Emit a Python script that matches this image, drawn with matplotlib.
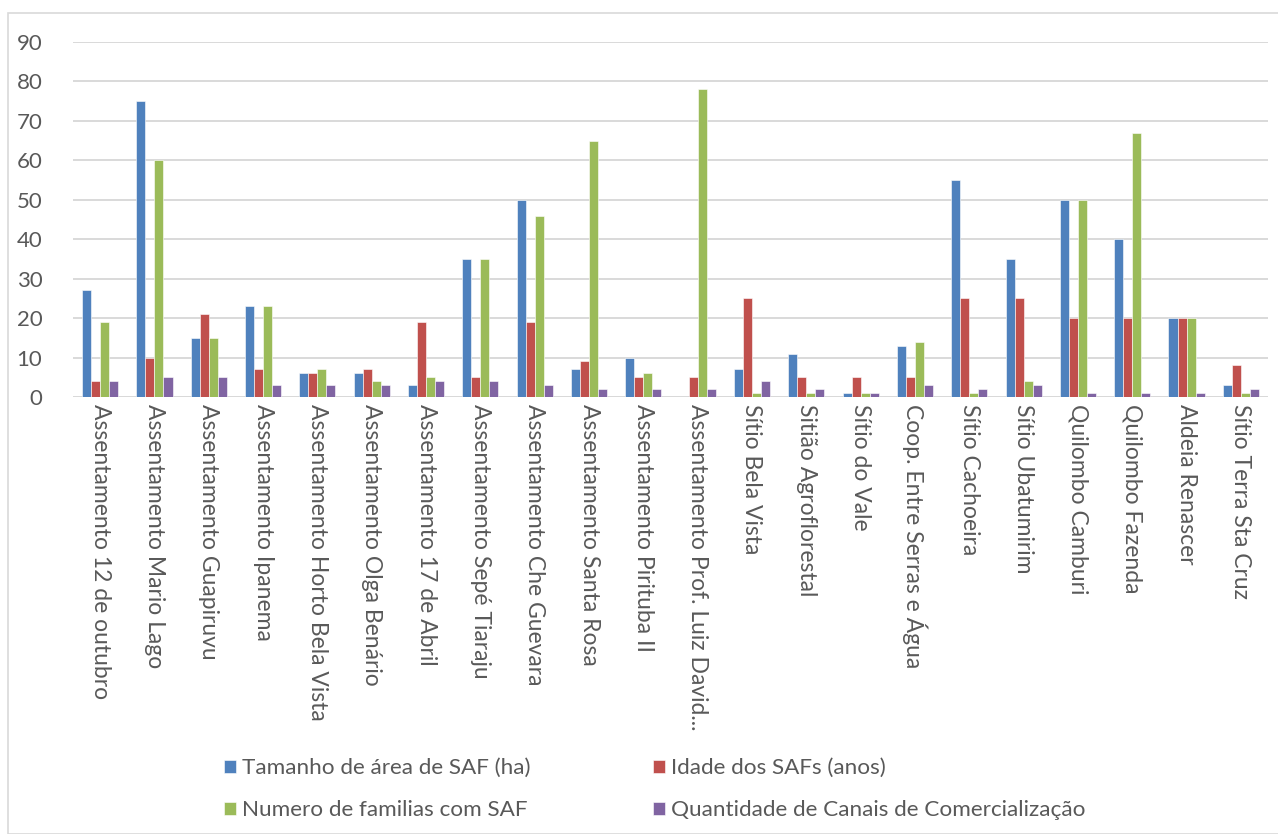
import numpy as np
import matplotlib
matplotlib.use("Agg")
import matplotlib.pyplot as plt
from matplotlib.patches import Rectangle

plt.rcParams['font.family'] = ['Lato', 'DejaVu Sans']

locais = [
    'Assentamento 12 de outubro', 'Assentamento Mario Lago', 'Assentamento Guapiruvu',
    'Assentamento Ipanema', 'Assentamento Horto Bela Vista', 'Assentamento Olga Benário',
    'Assentamento 17 de Abril', 'Assentamento Sepé Tiaraju', 'Assentamento Che Guevara',
    'Assentamento Santa Rosa', 'Assentamento Pirituba II', 'Assentamento Prof. Luiz David...',
    'Sítio Bela Vista', 'Sitião Agroflorestal', 'Sítio do Vale', 'Coop. Entre Serras e Água',
    'Sítio Cachoeira', 'Sítio Ubatumirim', 'Quilombo Camburi', 'Quilombo Fazenda',
    'Aldeia Renascer', 'Sítio Terra Sta Cruz',
]
tamanho = [27, 75, 15, 23, 6, 6, 3, 35, 50, 7, 10, 0, 7, 11, 1, 13, 55, 35, 50, 40, 20, 3]
idade = [4, 10, 21, 7, 6, 7, 19, 5, 19, 9, 5, 5, 25, 5, 5, 5, 25, 25, 20, 20, 20, 8]
familias = [19, 60, 15, 23, 7, 4, 5, 35, 46, 65, 6, 78, 1, 1, 1, 14, 1, 4, 50, 67, 20, 1]
canais = [4, 5, 5, 3, 3, 3, 4, 4, 3, 2, 2, 2, 4, 2, 1, 3, 2, 3, 1, 1, 1, 2]

series = [
    ('Tamanho de área de SAF (ha)', tamanho, '#4F81BD'),
    ('Idade dos SAFs (anos)', idade, '#C0504D'),
    ('Numero de familias com SAF', familias, '#9BBB59'),
    ('Quantidade de Canais de Comercialização', canais, '#8064A2'),
]

texto = '#595959'
grade = '#D9D9D9'

fig = plt.figure(figsize=(12.78, 8.34), dpi=100)
fig.patches.append(Rectangle((8 / 1278, 0), 1.0, 1 - 13 / 834, transform=fig.transFigure,
                             fill=False, edgecolor=grade, linewidth=1.2))
ax = fig.add_axes([73 / 1278, 1 - 397 / 834, 1195 / 1278, 355 / 834])

x = np.arange(len(locais))
w = 0.166
barras = []
for i, (nome, vals, cor) in enumerate(series):
    b = ax.bar(x + (i - 1.5) * w, vals, w, color=cor, edgecolor='white',
               linewidth=0.4, label=nome, zorder=3)
    barras.append(b)

ax.set_xlim(-0.5, len(locais) - 0.5)
ax.set_ylim(0, 90)
ax.set_yticks(range(0, 91, 10))
ax.yaxis.grid(True, color=grade, linewidth=1.4, zorder=0)
ax.set_axisbelow(True)
for s in ax.spines.values():
    s.set_visible(False)
ax.axhline(0, color=grade, linewidth=1.4, zorder=2)
ax.set_xticks(x)
ax.set_xticklabels(locais, rotation=-90, ha='center', va='top', fontsize=16.5)
ax.tick_params(axis='both', length=0, colors=texto)
ax.tick_params(axis='y', pad=22, labelsize=16)
ax.tick_params(axis='x', pad=5)

# legend in two rows: area/idade on top, familias/canais below
ordem = [0, 2, 1, 3]
fig.legend([barras[k] for k in ordem], [series[k][0] for k in ordem],
           loc='upper left', bbox_to_anchor=(204 / 1278, 1 - 738 / 834), ncol=2,
           frameon=False, fontsize=16.2, labelcolor=texto, handlelength=0.5,
           handleheight=0.5, handletextpad=0.3, columnspacing=5.45, labelspacing=0.98)

fig.savefig('out.png', dpi=100)
